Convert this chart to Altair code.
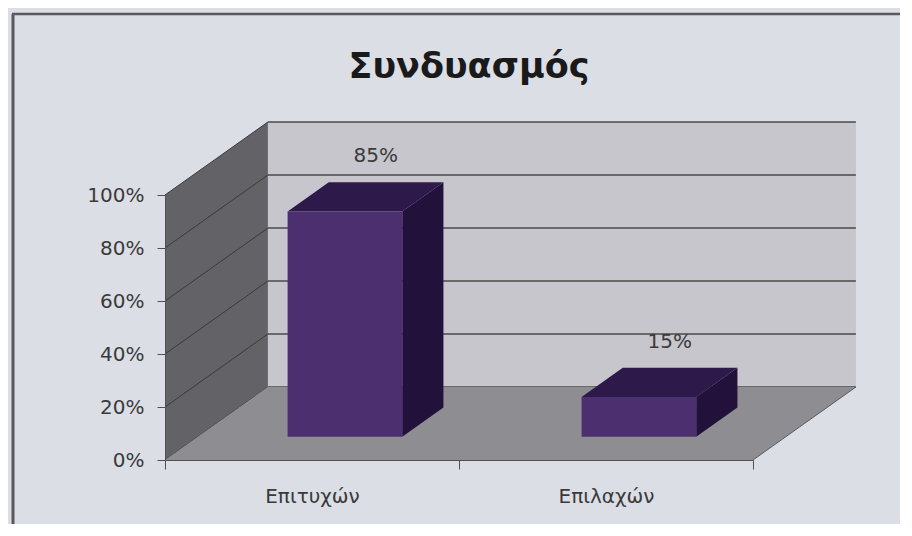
import altair as alt
import pandas as pd

# ---------------- data ----------------
categories = ["Επιτυχών", "Επιλαχών"]
values = [0.85, 0.15]
value_labels = ["85%", "15%"]
tick_values = [0, 0.2, 0.4, 0.6, 0.8, 1.0]
category_ticks = [0, 1, 2]

# ---------------- 3-D look (data units of the front plane) ----------------
DEPTH_X = 0.35      # horizontal shift of the back plane (x units)
DEPTH_Y = 0.2755    # vertical shift of the back plane (y units)
BAR_W = 0.39        # bar width (x units)
BAR_D0 = 0.32       # depth fraction of bar front face
BAR_DD = 0.40       # depth fraction of bar thickness
LABEL_D = 0.62
LABEL_H = 0.72

BG = "#dcdee6"
WALL_BACK = "#c7c6cc"
WALL_LEFT = "#636367"
FLOOR = "#8e8e92"
GRID = "#4a4a4a"
BAR_FRONT = "#4b2f6e"
BAR_TOP = "#2e1a4a"
BAR_SIDE = "#22113a"
FONT = "DejaVu Sans"

xs = alt.Scale(domain=[0, 2], nice=False, zero=False)
ys = alt.Scale(domain=[0, 1], nice=False, zero=False)

label_expr = " : ".join(
    [f"datum.value == {i} ? '{c}'" for i, c in enumerate(categories)] + ["''"]
)
x_axis = alt.Axis(
    values=category_ticks, labelExpr=label_expr, labelOffset=147,
    labelFlush=False, labelOverlap=False, labelAlign="center",
    tickSize=9, tickColor="#505050", domainColor="#505050",
    labelFont=FONT, labelFontSize=20, labelColor="#3a3a3a", labelPadding=17,
    grid=False, title=None, zindex=1,
)
y_axis = alt.Axis(
    values=tick_values, format=".0%", tickSize=8, tickColor="#505050",
    domainColor="#505050", labelFont=FONT, labelFontSize=20,
    labelColor="#3a3a3a", labelPadding=13, grid=False, title=None, zindex=1,
)


def X(f):
    return alt.X(f, type="quantitative", scale=xs, axis=x_axis)


def Y(f):
    return alt.Y(f, type="quantitative", scale=ys, axis=y_axis)


# ---- walls and floor ----
back_wall = pd.DataFrame({"x": [DEPTH_X], "x2": [2 + DEPTH_X],
                          "y": [DEPTH_Y], "y2": [1 + DEPTH_Y]})
left_wall = pd.DataFrame({"x": [0, DEPTH_X], "y": [0, DEPTH_Y],
                          "y2": [1, 1 + DEPTH_Y]})
floor = pd.DataFrame({"y": [0, DEPTH_Y], "x": [0, DEPTH_X],
                      "x2": [2, 2 + DEPTH_X]})
floor_edge = pd.DataFrame({"x": [2], "x2": [2 + DEPTH_X],
                           "y": [0], "y2": [DEPTH_Y]})
back_grid = pd.DataFrame({"x": DEPTH_X, "x2": 2 + DEPTH_X,
                          "y": [v + DEPTH_Y for v in tick_values]})
left_grid = pd.DataFrame({"x": 0, "x2": DEPTH_X, "y": tick_values,
                          "y2": [v + DEPTH_Y for v in tick_values]})

# ---- bars (front / top / side faces) ----
front_rows, top_rows, side_rows, label_rows = [], [], [], []
for i, (c, v, lab) in enumerate(zip(categories, values, value_labels)):
    center = i + 0.5
    sx0, sy0 = DEPTH_X * BAR_D0, DEPTH_Y * BAR_D0
    sx1, sy1 = DEPTH_X * (BAR_D0 + BAR_DD), DEPTH_Y * (BAR_D0 + BAR_DD)
    xl, xr = center - BAR_W / 2, center + BAR_W / 2
    front_rows.append({"cat": c, "x": xl + sx0, "x2": xr + sx0,
                       "y": sy0, "y2": sy0 + v})
    top_rows += [{"cat": c, "y": sy0 + v, "x": xl + sx0, "x2": xr + sx0},
                 {"cat": c, "y": sy1 + v, "x": xl + sx1, "x2": xr + sx1}]
    side_rows += [{"cat": c, "x": xr + sx0, "y": sy0, "y2": sy0 + v},
                  {"cat": c, "x": xr + sx1, "y": sy1, "y2": sy1 + v}]
    label_rows.append({"cat": c, "label": lab,
                       "x": center + DEPTH_X * LABEL_D,
                       "y": v + DEPTH_Y * LABEL_H})

front = pd.DataFrame(front_rows)
top = pd.DataFrame(top_rows)
side = pd.DataFrame(side_rows)
labels = pd.DataFrame(label_rows)

layers = [
    alt.Chart(back_wall).mark_rect(color=WALL_BACK).encode(
        x=X("x"), x2="x2", y=Y("y"), y2="y2"),
    alt.Chart(back_grid).mark_rule(color=GRID, strokeWidth=1.3).encode(
        x=X("x"), x2="x2", y=Y("y")),
    alt.Chart(left_wall).mark_area(color=WALL_LEFT, orient="vertical").encode(
        x=X("x"), y=Y("y"), y2="y2"),
    alt.Chart(left_grid).mark_rule(color="#3a3a3c", strokeWidth=1).encode(
        x=X("x"), x2="x2", y=Y("y"), y2="y2"),
    alt.Chart(floor).mark_area(color=FLOOR, orient="horizontal").encode(
        y=Y("y"), x=X("x"), x2="x2"),
    alt.Chart(floor_edge).mark_rule(color="#5a5a5c", strokeWidth=1).encode(
        x=X("x"), x2="x2", y=Y("y"), y2="y2"),
    alt.Chart(side).mark_area(color=BAR_SIDE, orient="vertical").encode(
        x=X("x"), y=Y("y"), y2="y2", detail="cat"),
    alt.Chart(top).mark_area(color=BAR_TOP, orient="horizontal").encode(
        y=Y("y"), x=X("x"), x2="x2", detail="cat"),
    alt.Chart(front).mark_rect(color=BAR_FRONT).encode(
        x=X("x"), x2="x2", y=Y("y"), y2="y2"),
    alt.Chart(labels).mark_text(font=FONT, fontSize=20, color="#3a3a3a",
                                baseline="middle", dy=-26).encode(
        x=X("x"), y=Y("y"), text="label"),
]

# outer frame of the chart object (decoration)
frame_df = pd.DataFrame({"k": [0]})
frame = [
    alt.Chart(frame_df).mark_rule(color="#5a5a5e", strokeWidth=3).encode(
        x=alt.value(-152), y=alt.value(-181), y2=alt.value(340)),
    alt.Chart(frame_df).mark_rule(color="#5a5a5e", strokeWidth=2.5).encode(
        x=alt.value(-153), x2=alt.value(740), y=alt.value(-181)),
]

chart = alt.layer(*layers, *frame).properties(
    width=588,
    height=265,
    autosize="none",
    padding={"left": 157, "top": 187, "right": 147, "bottom": 64},
    background=BG,
    title=alt.TitleParams(
        text="Συνδυασμός", font=FONT, fontSize=35, fontWeight="bold",
        color="#1a1a1a", anchor="middle", frame="group", offset=-72, dx=10,
    ),
).configure_view(stroke=None)

chart.save("out.html", embed_options={"renderer": "svg", "actions": False})
